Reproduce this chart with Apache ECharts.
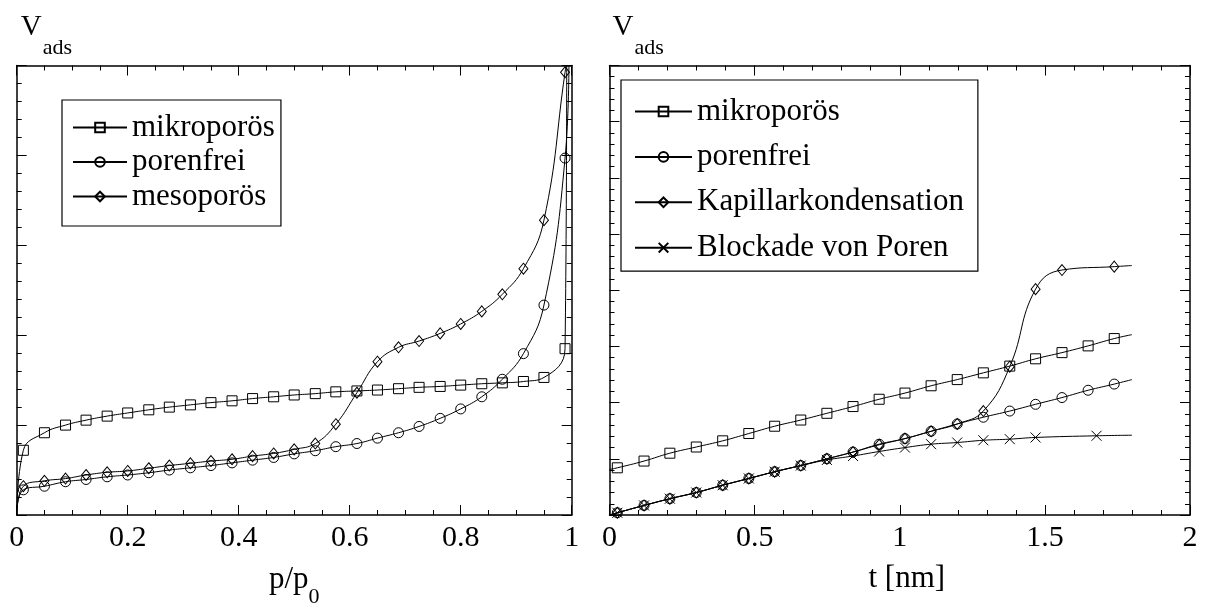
<!DOCTYPE html>
<html><head><meta charset="utf-8">
<script src="https://cdn.jsdelivr.net/npm/echarts@6/dist/echarts.min.js"></script>
<style>html,body{margin:0;padding:0;background:#fff}#c{width:1207px;height:604px}</style>
</head><body><div id="c"></div>
<script>
const FONT = 'Liberation Serif, Times New Roman, Times, serif';

// ---------- left panel: V_ads vs p/p0 ----------
const pLeft = [0.012, 0.05, 0.088, 0.125, 0.163, 0.2, 0.238, 0.275, 0.313, 0.35, 0.388, 0.425, 0.463, 0.5, 0.538, 0.575, 0.613, 0.65, 0.688, 0.725, 0.763, 0.8, 0.838, 0.875, 0.913, 0.95, 0.988];
const mikroLeft = [14.4, 18.3, 20.0, 21.1, 22.0, 22.7, 23.4, 24.0, 24.5, 25.0, 25.4, 25.9, 26.3, 26.7, 27.0, 27.4, 27.6, 27.8, 28.1, 28.4, 28.6, 28.9, 29.2, 29.4, 29.7, 30.6, 37.0];
const porenLeft = [5.6, 6.4, 7.4, 7.9, 8.5, 8.9, 9.4, 10.0, 10.5, 11.0, 11.6, 12.2, 12.8, 13.6, 14.3, 15.2, 15.9, 17.1, 18.3, 19.7, 21.5, 23.6, 26.3, 30.2, 35.9, 46.7, 79.4];
const mesoLeft = [6.4, 7.6, 8.1, 8.9, 9.5, 9.8, 10.4, 11.0, 11.5, 12.0, 12.4, 13.1, 13.7, 14.6, 15.9, 20.2, 27.2, 34.1, 37.3, 38.7, 40.4, 42.5, 45.3, 49.1, 54.8, 65.6, 98.5];
// curve points without a marker (start at origin, steep rise at p/p0 -> 1)
const mikroLeftLine = [[0, 0], [0.991, 100]];
const porenLeftLine = [[0, 0], [0.995, 100]];
const mesoLeftLine = [[0, 0], [0.99, 100]];
const xTicksLeft = {min: 0, max: 1, interval: 0.2, minor: 4};
const yTicksLeft = {min: 0, max: 100, interval: 20, minor: 5};

// ---------- right panel: V_ads vs t [nm] ----------
const tRight = [0.027, 0.119, 0.208, 0.299, 0.390, 0.480, 0.569, 0.659, 0.749, 0.839, 0.929, 1.018, 1.108, 1.198, 1.288, 1.379, 1.468, 1.559, 1.649, 1.739];
const mikroRight = [0.84, 0.96, 1.10, 1.21, 1.32, 1.45, 1.58, 1.69, 1.81, 1.93, 2.06, 2.17, 2.30, 2.41, 2.53, 2.65, 2.78, 2.89, 3.01, 3.14];
const porenRight = [0.04, 0.17, 0.29, 0.40, 0.53, 0.65, 0.77, 0.88, 1.00, 1.12, 1.26, 1.36, 1.49, 1.62, 1.74, 1.85, 1.97, 2.09, 2.22, 2.33];
const tKapill = [0.027, 0.119, 0.208, 0.299, 0.390, 0.480, 0.569, 0.659, 0.749, 0.839, 0.929, 1.018, 1.108, 1.198, 1.288, 1.379, 1.468, 1.559, 1.739];
const kapillRight = [0.04, 0.17, 0.29, 0.40, 0.53, 0.65, 0.77, 0.88, 1.00, 1.12, 1.25, 1.36, 1.49, 1.62, 1.85, 2.64, 4.02, 4.36, 4.42];
const tBlock = [0.027, 0.119, 0.208, 0.299, 0.390, 0.480, 0.569, 0.659, 0.749, 0.839, 0.929, 1.018, 1.108, 1.198, 1.288, 1.379, 1.468, 1.678];
const blockRight = [0.04, 0.17, 0.29, 0.40, 0.53, 0.65, 0.77, 0.88, 0.98, 1.05, 1.13, 1.20, 1.26, 1.29, 1.33, 1.35, 1.38, 1.41];
const mikroRightLine = [[0, 0.81], [1.80, 3.21]];
const porenRightLine = [[0, 0], [1.80, 2.41]];
const kapillRightLine = [[0, 0], [1.80, 4.44]];
const blockRightLine = [[0, 0], [1.80, 1.42]];
const xTicksRight = {min: 0, max: 2, interval: 0.5, minor: 5};
const yTicksRight = {min: 0, max: 8, interval: 1, minor: 5};

const namesLeft = ['mikroporös', 'porenfrei', 'mesoporös'];
const namesRight = ['mikroporös', 'porenfrei', 'Kapillarkondensation', 'Blockade von Poren'];

const CROSS = 'path://M0,0L10,10M10,0L0,10';

function build(xs, ys, extra) {
  const pts = xs.map((x, i) => ({value: [x, ys[i]]}));
  extra.forEach(e => pts.push({value: e, symbol: 'none'}));
  pts.sort((a, b) => a.value[0] - b.value[0]);
  return pts;
}
function ser(name, sym, size, data, xi, yi) {
  return {
    type: 'line', name, data, xAxisIndex: xi, yAxisIndex: yi,
    symbol: sym, symbolSize: size, showAllSymbol: true,
    smooth: 0.45, clip: true,
    lineStyle: {color: '#000', width: 1},
    itemStyle: {color: 'rgba(0,0,0,0)', borderColor: '#000', borderWidth: 1},
    emphasis: {disabled: true}, silent: true, animation: false
  };
}
function axis(grid, t, pos, showLabel, name, nameStyle, extra) {
  const a = {
    gridIndex: grid, type: 'value', min: t.min, max: t.max, interval: t.interval, position: pos,
    axisLine: {show: true, onZero: false, lineStyle: {color: '#000', width: 1.5}},
    axisTick: {show: true, inside: true, length: 10, lineStyle: {color: '#000', width: 1}},
    minorTick: {show: true, splitNumber: t.minor, length: 5, lineStyle: {color: '#000', width: 1}},
    splitLine: {show: false}, minorSplitLine: {show: false},
    axisLabel: {show: showLabel, margin: 8, color: '#000', fontSize: 30, fontFamily: FONT},
    silent: true
  };
  if (name) { a.name = name; Object.assign(a, extra); a.nameTextStyle = nameStyle; }
  return a;
}
const vadsStyle = (padL) => ({
  align: 'left', verticalAlign: 'bottom', padding: [0, 0, 0, padL], fontFamily: FONT, fontSize: 29,
  rich: {
    v: {fontSize: 29, lineHeight: 30, verticalAlign: 'top', fontFamily: FONT, color: '#000'},
    s: {fontSize: 22, lineHeight: 20, verticalAlign: 'top', padding: [25, 0, 0, 1], fontFamily: FONT, color: '#000'}
  }
});
const pNameStyle = {
  fontFamily: FONT, fontSize: 31,
  rich: {
    a: {fontSize: 31, lineHeight: 30, verticalAlign: 'top', fontFamily: FONT, color: '#000'},
    b: {fontSize: 22, lineHeight: 20, verticalAlign: 'top', padding: [22, 0, 0, 0], fontFamily: FONT, color: '#000'}
  }
};
const tNameStyle = {fontSize: 31, lineHeight: 30, fontFamily: FONT, color: '#000', padding: [0, 0, 0, 14]};
const legendText = {fontSize: 31, lineHeight: 30, fontFamily: FONT, color: '#000'};

const option = {
  backgroundColor: '#fff',
  animation: false,
  textStyle: {fontFamily: FONT},
  grid: [
    {left: 16.7, top: 65.5, width: 555, height: 449.5, outerBoundsMode: 'none', containLabel: false},
    {left: 609.5, top: 65.5, width: 580.5, height: 449.5, outerBoundsMode: 'none', containLabel: false}
  ],
  xAxis: [
    axis(0, xTicksLeft, 'bottom', true, '{a|p/p}{b|0}', pNameStyle, {nameLocation: 'middle', nameGap: 49}),
    axis(0, xTicksLeft, 'top', false),
    axis(1, xTicksRight, 'bottom', true, 't [nm]', tNameStyle, {nameLocation: 'middle', nameGap: 49}),
    axis(1, xTicksRight, 'top', false)
  ],
  yAxis: [
    axis(0, yTicksLeft, 'left', false, '{v|V}{s|ads}', vadsStyle(4), {nameLocation: 'end', nameGap: 23}),
    axis(0, yTicksLeft, 'right', false),
    axis(1, yTicksRight, 'left', false, '{v|V}{s|ads}', vadsStyle(3), {nameLocation: 'end', nameGap: 23}),
    axis(1, yTicksRight, 'right', false)
  ],
  legend: [
    {orient: 'vertical', left: 62, top: 100, data: namesLeft, itemWidth: 54, itemHeight: 12, itemGap: 3.5,
     padding: [12, 6, 14, 10], borderColor: '#000', borderWidth: 1.2, backgroundColor: '#fff', selectedMode: false,
     textStyle: legendText},
    {orient: 'vertical', left: 621, top: 80, data: namesRight, itemWidth: 57, itemHeight: 12, itemGap: 14.4,
     padding: [16, 14, 8, 13], borderColor: '#000', borderWidth: 1.2, backgroundColor: '#fff', selectedMode: false,
     textStyle: legendText}
  ],
  series: [
    ser(namesLeft[0], 'rect', 10, build(pLeft, mikroLeft, mikroLeftLine), 0, 0),
    ser(namesLeft[1], 'circle', 10, build(pLeft, porenLeft, porenLeftLine), 0, 0),
    ser(namesLeft[2], 'diamond', [9, 11], build(pLeft, mesoLeft, mesoLeftLine), 0, 0),
    ser(namesRight[0], 'rect', 10, build(tRight, mikroRight, mikroRightLine), 2, 2),
    ser(namesRight[1], 'circle', 10, build(tRight, porenRight, porenRightLine), 2, 2),
    ser(namesRight[2], 'diamond', [9, 11], build(tKapill, kapillRight, kapillRightLine), 2, 2),
    ser(namesRight[3], CROSS, 10, build(tBlock, blockRight, blockRightLine), 2, 2)
  ]
};
const chart = echarts.init(document.getElementById('c'), null, {renderer: 'canvas'});
chart.setOption(option);
</script>
</body></html>
